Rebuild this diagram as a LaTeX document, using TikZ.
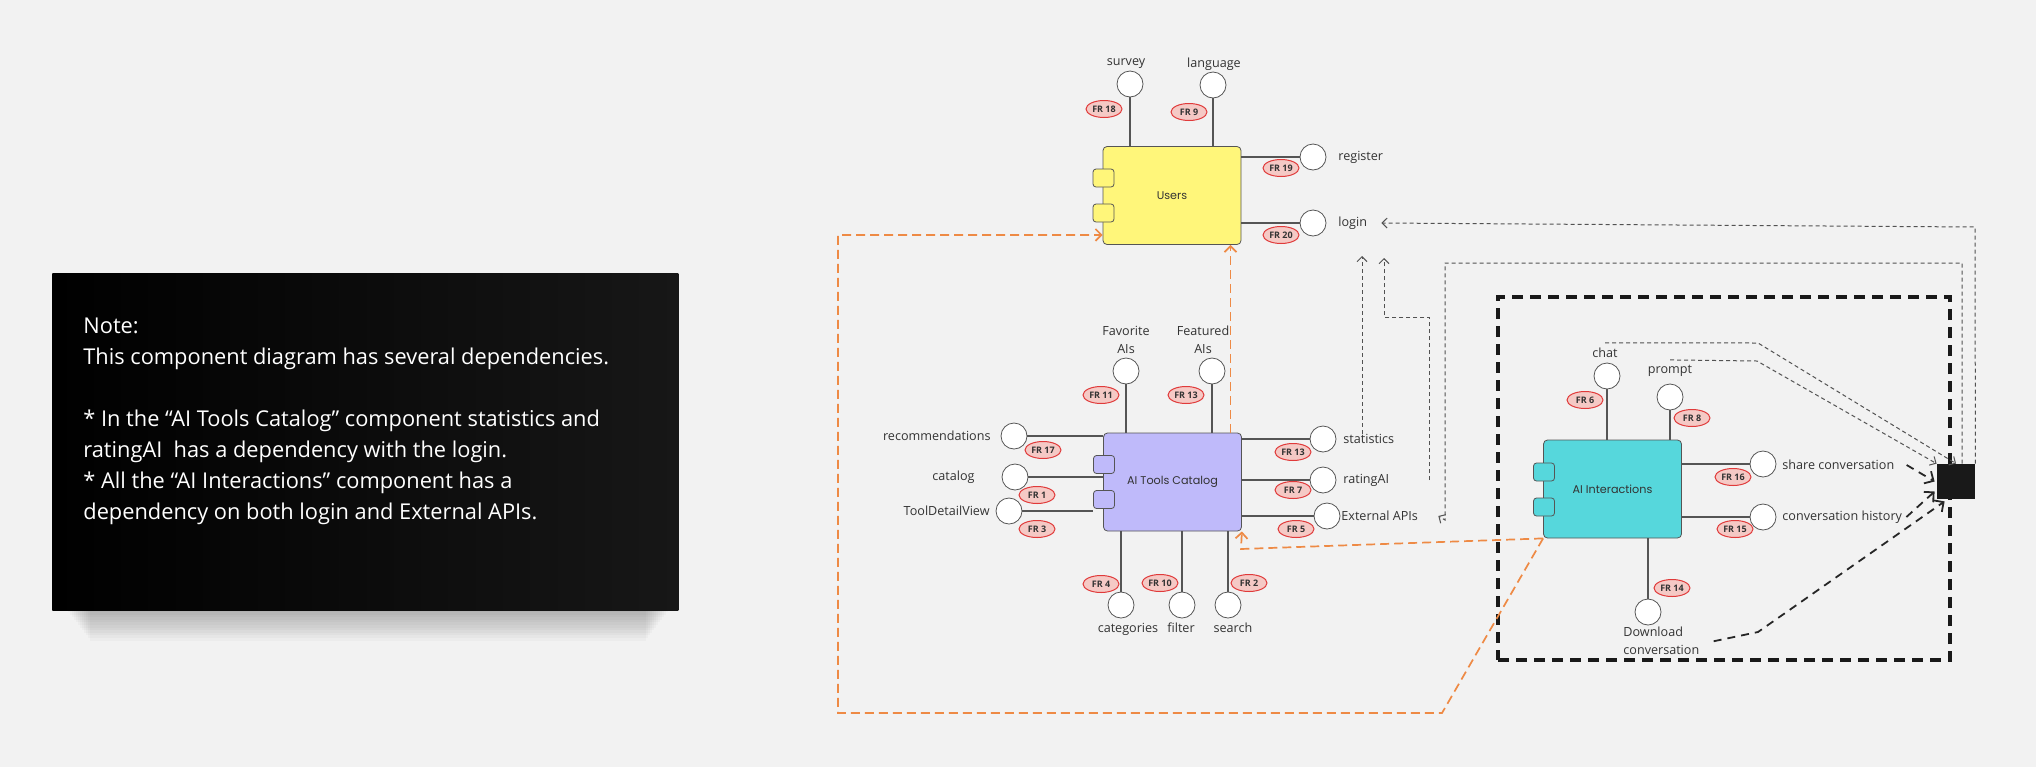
\documentclass[tikz,border=0pt]{standalone}
\usepackage{fontspec}
\setmainfont{Open Sans}
\newfontfamily\compfont{Poppins}
\usetikzlibrary{arrows.meta, positioning, shapes.geometric}

\definecolor{bgcol}{HTML}{F2F2F2}
\definecolor{usercol}{HTML}{FFF67A}
\definecolor{toolcol}{HTML}{BFBAFA}
\definecolor{intercol}{HTML}{56D7DC}
\definecolor{frfill}{HTML}{F5C9C5}
\definecolor{frline}{HTML}{E03A3A}
\definecolor{orangec}{HTML}{EE8A45}
\definecolor{linecol}{HTML}{555555}
\definecolor{txtcol}{HTML}{333333}

\tikzset{
  comp/.style={draw=linecol, rounded corners=2pt, minimum width=69pt, minimum height=49pt, inner sep=0pt, font=\compfont\fontsize{5.6}{6.5}\selectfont, text=txtcol},
  port/.style={draw=linecol, rounded corners=1.5pt, minimum width=10.5pt, minimum height=9pt, inner sep=0pt},
  lolli/.style={draw=linecol, circle, fill=white, minimum size=13pt, inner sep=0pt},
  lbl/.style={font=\fontsize{6.3}{9}\selectfont, text=txtcol, inner sep=0pt},
  fr/.style={draw=frline, ellipse, fill=frfill, minimum width=18pt, minimum height=8.5pt, inner sep=0pt, line width=0.5pt, font=\bfseries\fontsize{4.5}{5}\selectfont, text=txtcol},
  stem/.style={draw=linecol, line width=0.6pt},
  usedep/.style={draw=orangec, line width=0.85pt, dash pattern=on 4.5pt off 2.5pt, -{Straight Barb[length=3pt,width=6pt]}},
  dep/.style={draw=black!68, line width=0.5pt, dash pattern=on 2pt off 1.5pt, -{Straight Barb[length=2.5pt,width=5pt]}},
  depx/.style={draw=black!85, line width=0.9pt, dash pattern=on 4pt off 3pt, -{Straight Barb[length=3.5pt,width=7pt]}},
}

\begin{document}
\begin{tikzpicture}[x=0.5pt, y=-0.5pt]
\fill[bgcol] (0,0) rectangle (2036,767);
\useasboundingbox (0,0) rectangle (2036,767);

% note card
\foreach \i in {0,...,11}
  \fill[black, opacity=0.022] (68+2*\i,600) rectangle (668-2*\i,612+2.6*\i);
\node[anchor=north west, minimum width=313pt, minimum height=168.5pt, inner sep=0pt, left color=black, right color=black!91!white] at (52,273) (notebox) {};
\node[anchor=north west, align=left, text=white, inner sep=0pt, font=\fontsize{10.9}{15.5}\selectfont] at (83,318) (notetext) {Note:\\This component diagram has several dependencies.\\[15.5pt]* In the “AI Tools Catalog” component statistics and\\ratingAI\ \ has a dependency with the login.\\* All the “AI Interactions” component has a\\dependency on both login and External APIs.};

% system boundary
\node[draw=black!90, line width=1.6pt, dash pattern=on 5.5pt off 3.5pt, minimum width=226pt, minimum height=181.5pt, inner sep=0pt] at (1724,478.5) (boundary) {};

% components
\node[comp, fill=usercol] at (1172,195.5) (users) {Users};
\node[port, fill=usercol] at (1103.5,178) (usersp1) {};
\node[port, fill=usercol] at (1103.5,213) (usersp2) {};

\node[comp, fill=toolcol] at (1172.5,482) (tools) {AI Tools Catalog};
\node[port, fill=toolcol] at (1104,464.5) (toolsp1) {};
\node[port, fill=toolcol] at (1104,499.5) (toolsp2) {};

\node[comp, fill=intercol] at (1612.5,489) (inter) {AI Interactions};
\node[port, fill=intercol] at (1544,472) (interp1) {};
\node[port, fill=intercol] at (1544,507) (interp2) {};

\node[fill=black!90, minimum width=19pt, minimum height=17.5pt, inner sep=0pt] at (1956,481.5) (ext) {};

% Users interfaces
\node[lolli] at (1130,84) (survey) {};
\node[lbl] at (1126,64) (surveyL) {survey};
\node[fr] at (1104,109) (fr18) {FR 18};
\node[lolli] at (1213,85) (language) {};
\node[lbl] at (1214,64) (languageL) {language};
\node[fr] at (1189,112) (fr9) {FR 9};
\node[lolli] at (1313,157) (register) {};
\node[lbl, anchor=west] at (1338,157) (registerL) {register};
\node[fr] at (1281,168) (fr19) {FR 19};
\node[lolli] at (1313,223) (login) {};
\node[lbl, anchor=west] at (1338,223) (loginL) {login};
\node[fr] at (1281,235) (fr20) {FR 20};

\draw[stem] (survey) -- (survey |- users.north);
\draw[stem] (language) -- (language |- users.north);
\draw[stem] (register) -- (register -| users.east);
\draw[stem] (login) -- (login -| users.east);

% AI Tools Catalog interfaces
\node[lolli] at (1126,371) (favorite) {};
\node[lbl, align=center, font=\fontsize{6.3}{9}\selectfont] at (1126,340) (favoriteL) {Favorite\\AIs};
\node[fr] at (1101,395) (fr11) {FR 11};
\node[lolli] at (1212,371) (featured) {};
\node[lbl, align=center, font=\fontsize{6.3}{9}\selectfont] at (1203,340) (featuredL) {Featured\\AIs};
\node[fr] at (1186,395) (fr13a) {FR 13};

\node[lolli] at (1014,436) (recom) {};
\node[lbl, anchor=east] at (991,436) (recomL) {recommendations};
\node[fr] at (1043,450) (fr17) {FR 17};
\node[lolli] at (1015,477) (catlg) {};
\node[lbl, anchor=east] at (975,477) (catlgL) {catalog};
\node[fr] at (1037,495) (fr1) {FR 1};
\node[lolli] at (1009,511) (tooldv) {};
\node[lbl, anchor=east] at (990,511) (tooldvL) {ToolDetailView};
\node[fr] at (1037,529) (fr3) {FR 3};

\node[lolli] at (1323,439) (stats) {};
\node[lbl, anchor=west] at (1343,439) (statsL) {statistics};
\node[fr] at (1293,452) (fr13b) {FR 13};
\node[lolli] at (1323,480) (rating) {};
\node[lbl, anchor=west] at (1343,480) (ratingL) {ratingAI};
\node[fr] at (1293,490) (fr7) {FR 7};
\node[lolli] at (1327,516) (extapi) {};
\node[lbl, anchor=west] at (1341,516) (extapiL) {External APIs};
\node[fr] at (1296,529) (fr5) {FR 5};

\node[lolli] at (1121,605) (categ) {};
\node[lbl] at (1128,629) (categL) {categories};
\node[fr] at (1101,584) (fr4) {FR 4};
\node[lolli] at (1182,605) (filter) {};
\node[lbl] at (1181,628) (filterL) {filter};
\node[fr] at (1160,583) (fr10) {FR 10};
\node[lolli] at (1228,605) (search) {};
\node[lbl] at (1233,628) (searchL) {search};
\node[fr] at (1249,583) (fr2) {FR 2};

\draw[stem] (favorite) -- (favorite |- tools.north);
\draw[stem] (featured) -- (featured |- tools.north);
\draw[stem] (recom) -- (recom -| tools.west);
\draw[stem] (catlg) -- (catlg -| tools.west);
\draw[stem] (tooldv) -- (tooldv -| toolsp2.west);
\draw[stem] (stats) -- (stats -| tools.east);
\draw[stem] (rating) -- (rating -| tools.east);
\draw[stem] (extapi) -- (extapi -| tools.east);
\draw[stem] (categ) -- (categ |- tools.south);
\draw[stem] (filter) -- (filter |- tools.south);
\draw[stem] (search) -- (search |- tools.south);

% AI Interactions interfaces
\node[lolli] at (1607,376) (chat) {};
\node[lbl] at (1605,353) (chatL) {chat};
\node[fr] at (1585,400) (fr6) {FR 6};
\node[lolli] at (1670,397) (prompt) {};
\node[lbl] at (1670,371) (promptL) {prompt};
\node[fr] at (1692,418) (fr8) {FR 8};
\node[lolli] at (1763,464) (share) {};
\node[lbl, anchor=west] at (1782,465) (shareL) {share conversation};
\node[fr] at (1733,477) (fr16) {FR 16};
\node[lolli] at (1763,517) (history) {};
\node[lbl, anchor=west] at (1782,517) (historyL) {conversation history};
\node[fr] at (1735,529) (fr15) {FR 15};
\node[lolli] at (1648,612) (download) {};
\node[lbl, align=left, anchor=north west, font=\fontsize{6.3}{9}\selectfont] at (1623,627) (downloadL) {Download\\conversation};
\node[fr] at (1672,588) (fr14) {FR 14};

\draw[stem] (chat) -- (chat |- inter.north);
\draw[stem] (prompt) -- (prompt |- inter.north);
\draw[stem] (share) -- (share -| inter.east);
\draw[stem] (history) -- (history -| inter.east);
\draw[stem] (download) -- (download |- inter.south);

% orange dependencies
\coordinate (ou) at ([xshift=29pt]tools.north);
\draw[usedep] (ou) -- (ou |- users.south);
\draw[usedep] (inter.south west) -- (1241,549) -- (tools.south east);
\draw[usedep] (inter.south west) -- (1442,713) -- (838,713) |- ([yshift=5pt]users.south west);

% dependencies to login and External APIs
\coordinate (statsA) at (1362,256);
\coordinate (ratingA) at (1384,258);
\draw[dep] (statsA |- statsL.north) -- (statsA);
\draw[dep] ([xshift=20pt]ratingL.east) -- ++(0,-163) -| (ratingA);
\draw[dep] (ext.north east) -- (1975,227) -- ([xshift=7pt]loginL.east);
\draw[dep] ([xshift=3pt]ext.north) -- (1962,263) -- (1445,263) -- (1445,520) -- ([xshift=10pt]extapiL.east);
\draw[dep] ([yshift=2.5pt]chatL.north) -- (1758,343) -- (ext.north);
\draw[dep] ([yshift=2.5pt]promptL.north) -- (1757,361) -- (ext.north west);

% dependencies inside AI Interactions
\draw[depx] ([xshift=6pt]shareL.east) -- ([xshift=-1pt]ext.west);
\draw[depx] ([xshift=2pt]historyL.east) -- ([xshift=-1pt,yshift=-5pt]ext.west);
\draw[depx] ([xshift=7pt]downloadL.east) -- (1758,632) -- ([xshift=4pt,yshift=-1pt]ext.south west);

\end{tikzpicture}
\end{document}
